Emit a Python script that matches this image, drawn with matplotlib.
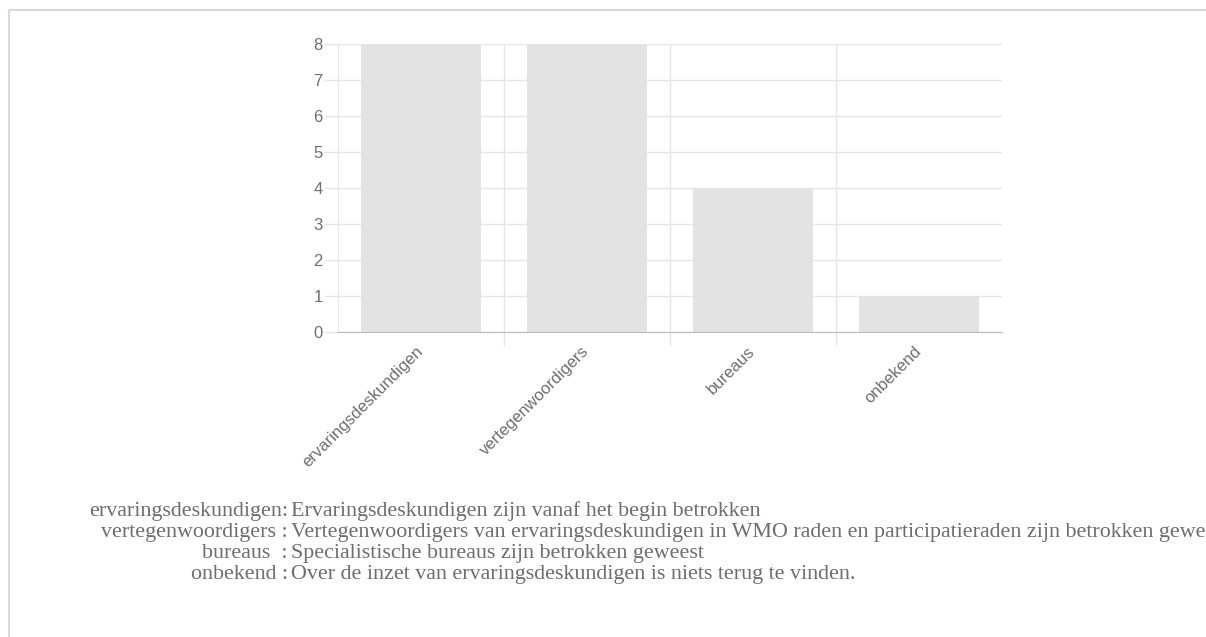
import numpy as np
import matplotlib.pyplot as plt
from matplotlib.lines import Line2D

categories = ["ervaringsdeskundigen", "vertegenwoordigers", "bureaus", "onbekend"]
counts = [8, 8, 4, 1]
legend_keys = ["ervaringsdeskundigen:", "vertegenwoordigers :", "bureaus  :", "onbekend :"]
descriptions = [
    "Ervaringsdeskundigen zijn vanaf het begin betrokken",
    "Vertegenwoordigers van ervaringsdeskundigen in WMO raden en participatieraden zijn betrokken geweest",
    "Specialistische bureaus zijn betrokken geweest",
    "Over de inzet van ervaringsdeskundigen is niets terug te vinden.",
]

W, H = 1206, 637
fig = plt.figure(figsize=(W / 100, H / 100), dpi=100)
ax = fig.add_axes([338 / W, 1 - 332 / H, (1002 - 338) / W, (332 - 44) / H])

grid_c = "#e6e6e6"
txt_c = "#6e6e6e"

x = np.arange(len(categories))
ax.bar(x, counts, width=0.72, color="#e3e3e3", zorder=2)

ax.set_xlim(-0.5, len(categories) - 0.5)
ax.set_ylim(0, 8)
ax.set_yticks(range(0, 9))
ax.yaxis.grid(True, color=grid_c, linewidth=1, zorder=0)
ax.tick_params(axis="y", colors=grid_c, length=10, width=1, labelcolor=txt_c,
               labelsize=12, pad=1)

# category borders as vertical grid lines with ticks below
ax.set_xticks(x)
ax.set_xticklabels(categories, rotation=45, ha="right", va="center",
                   rotation_mode="anchor", fontsize=12, color=txt_c)
ax.tick_params(axis="x", length=0, pad=12)
ax.set_xticks(x[:-1] + 0.5, minor=True)
ax.tick_params(axis="x", which="minor", length=10, width=1, colors=grid_c)
for b in x[:-1] + 0.5:
    ax.axvline(b, color=grid_c, linewidth=1, zorder=0)

for s in ["top", "right"]:
    ax.spines[s].set_visible(False)
ax.spines["left"].set_color(grid_c)
ax.spines["bottom"].set_color("#bbbbbb")
ax.spines["bottom"].set_zorder(3)

for lab in ax.get_yticklabels() + ax.get_xticklabels():
    lab.set_fontfamily("Liberation Sans")

# explanation table below the chart
row_y = [516, 537, 558, 579]
for key, desc, yy in zip(legend_keys, descriptions, row_y):
    fig.text(288 / W, 1 - yy / H, key, ha="right", va="baseline", fontsize=15.8,
             family="Liberation Serif", color=txt_c)
    fig.text(291 / W, 1 - yy / H, desc, ha="left", va="baseline", fontsize=15.8,
             family="Liberation Serif", color=txt_c)

# page frame
fig.add_artist(Line2D([8.5 / W, 1], [1 - 9.5 / H, 1 - 9.5 / H], color="#d9d9d9",
                      linewidth=1.5, transform=fig.transFigure))
fig.add_artist(Line2D([8.5 / W, 8.5 / W], [0, 1 - 9.5 / H], color="#d9d9d9",
                      linewidth=1.5, transform=fig.transFigure))

fig.savefig("out.png", dpi=100)
